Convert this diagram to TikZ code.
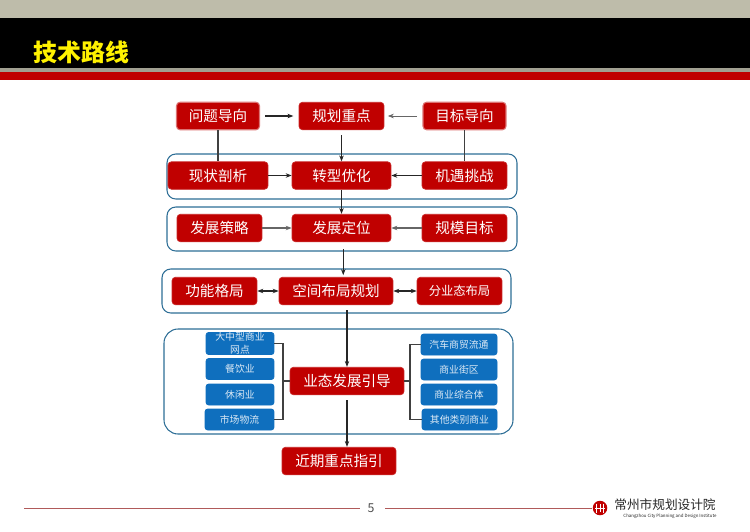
\documentclass[tikz,border=0pt]{standalone}
\usepackage{fontspec}
\setmainfont{Noto Sans CJK SC}
\usepackage{tikz}
\usetikzlibrary{positioning,arrows.meta}
\definecolor{bandtop}{RGB}{190,188,170}
\definecolor{bandred}{RGB}{192,0,0}
\definecolor{boxred}{RGB}{192,0,0}
\definecolor{boxblue}{RGB}{15,111,190}
\definecolor{grpblue}{RGB}{45,110,150}
\definecolor{footline}{RGB}{176,90,90}
\begin{document}
\begin{tikzpicture}[x=0.02cm, y=-0.02cm,
  rbox/.style={draw=boxred!85, rounded corners=2pt, fill=boxred, text=white, align=center,
    inner sep=0pt, minimum height=0.55cm, font=\fontsize{8.3}{10}\selectfont},
  pbox/.style={rbox, draw=boxred!55, line width=0.6pt},
  bbox/.style={draw=boxblue, rounded corners=1.5pt, fill=boxblue, text=white!85!boxblue, align=center,
    inner sep=0pt, minimum height=0.42cm, font=\fontsize{5.6}{6.8}\selectfont},
  grp/.style={draw=grpblue, line width=0.6pt, rounded corners=5pt, fill=white},
  arr/.style={-{Stealth[length=1.2mm]}, draw=black!85, line width=0.6pt},
  garr/.style={arr, draw=black!60},
  darr/.style={{Stealth[length=1.2mm]}-{Stealth[length=1.2mm]}, draw=black!85, line width=0.6pt},
  lnk/.style={draw=black!75, line width=0.6pt}]
\useasboundingbox (0,0) rectangle (750,531);
% header bands
\fill[bandtop] (0,0) rectangle (750,18);
\fill[black] (0,18) rectangle (750,68);
\fill[bandtop!85!black] (0,68) rectangle (750,72);
\fill[bandred] (0,72) rectangle (750,80);
\node[text=yellow, font=\fontsize{13.6}{16}\bfseries\selectfont, inner sep=0pt] (title) at (81.5,52) {技术路线};
% group frames
\draw[grp] (167,154) rectangle (517,199);
\draw[grp] (167,207) rectangle (517,251);
\draw[grp] (162,269) rectangle (511,313);
\draw[grp, rounded corners=8pt] (164,329) rectangle (513,434);
% top row
\node[pbox, minimum width=1.66cm] (wt) at (218,116) {问题导向};
\node[rbox, minimum width=1.7cm] (gh) at (341.5,116) {规划重点};
\node[pbox, minimum width=1.66cm] (mb) at (464.5,116) {目标导向};
% second row
\node[rbox, minimum width=2cm] (xz) at (218,175.5) {现状剖析};
\node[rbox, minimum width=1.98cm] (zx) at (341.5,175.5) {转型优化};
\node[rbox, minimum width=1.7cm] (jy) at (464.5,175.5) {机遇挑战};
% third row
\node[rbox, minimum width=1.7cm] (cl) at (219.5,228) {发展策略};
\node[rbox, minimum width=1.98cm] (dw) at (341.5,228) {发展定位};
\node[rbox, minimum width=1.7cm] (gm) at (464.5,228) {规模目标};
% fourth row
\node[rbox, minimum width=1.7cm] (gn) at (214.5,291) {功能格局};
\node[rbox, minimum width=2.28cm] (kj) at (336,291) {空间布局规划};
\node[rbox, minimum width=1.7cm, font=\fontsize{7}{9}\selectfont] (fy) at (459.5,291) {分业态布局};
% fifth row
\node[rbox, minimum width=2.28cm] (yt) at (347,381) {业态发展引导};
\node[rbox, minimum width=2.28cm] (jq) at (339,461) {近期重点指引};
% blue boxes left
\node[bbox, minimum width=1.36cm, text width=1.3cm] (bl1) at (240,343.5) {大中型商业\\[0.6pt]网点};
\node[bbox, minimum width=1.36cm] (bl2) at (240,369) {餐饮业};
\node[bbox, minimum width=1.36cm] (bl3) at (240,394.5) {休闲业};
\node[bbox, minimum width=1.38cm] (bl4) at (239.5,419.5) {市场物流};
% blue boxes right
\node[bbox, minimum width=1.52cm] (br1) at (459,344.5) {汽车商贸流通};
\node[bbox, minimum width=1.52cm] (br2) at (459,369.5) {商业街区};
\node[bbox, minimum width=1.52cm] (br3) at (459,394.5) {商业综合体};
\node[bbox, minimum width=1.5cm] (br4) at (459.5,419.5) {其他类别商业};
\coordinate (lbr) at (283,381);
\coordinate (rbr) at (410,381);
% connectors
\draw[arr, shorten <=3pt, shorten >=3pt] (wt.east) -- (gh.west);
\draw[garr, line width=0.35pt, shorten <=3pt, shorten >=2pt] (mb.west) -- (gh.east);
\draw[lnk] (wt.south) -- (xz.north);
\draw[lnk] (mb.south) -- (jy.north);
\draw[arr, shorten <=3pt] (gh.south) -- (zx.north);
\draw[arr] (xz.east) -- (zx.west);
\draw[arr] (jy.west) -- (zx.east);
\draw[arr] (zx.south) -- (dw.north);
\draw[garr] (cl.east) -- (dw.west);
\draw[garr] (gm.west) -- (dw.east);
\draw[arr, shorten <=4pt, shorten >=1pt] ([xshift=1pt]dw.south) -- ([xshift=1pt]dw.south |- kj.north);
\draw[darr] (gn.east) -- (kj.west);
\draw[darr] (kj.east) -- (fy.west);
\draw[arr, shorten <=3pt] (kj.south -| yt.north) -- (yt.north);
\draw[arr, shorten <=3pt] (yt.south) -- (yt.south |- jq.north);
\draw[lnk] (bl1.east) -| (lbr) |- (bl4.east);
\draw[lnk] (lbr) -- (yt.west);
\draw[lnk] (br1.west) -| (rbr) |- (br4.west);
\draw[lnk] (rbr) -- (yt.east);
% footer
\node[text=black!70, font=\fontsize{7}{8}\selectfont, inner sep=0pt] (pg) at (371,508) {5};
\coordinate (fl) at (24,508);
\draw[footline, line width=0.5pt] (fl) -- (360,508);
\node[circle, fill=bandred, minimum size=0.29cm, inner sep=0pt] (logo) at (600,508) {};
\draw[footline, line width=0.5pt] (385,508) -- (logo.west);
\draw[white, line width=0.45pt] (596.5,503.5) -- (596.5,512.5) (603.5,503.5) -- (603.5,512.5) (595,508) -- (605,508) (600,504) -- (600,512);
\node[text=black!85, font=\fontsize{7.2}{9}\selectfont, inner sep=0pt] (lg1) at (665,504.5) {常州市规划设计院};
\node[text=black!85, font=\fontsize{2.5}{4}\selectfont, inner sep=0pt] (lg2) at (670,516) {Changzhou City Planning and Design Institute};
\end{tikzpicture}
\end{document}
